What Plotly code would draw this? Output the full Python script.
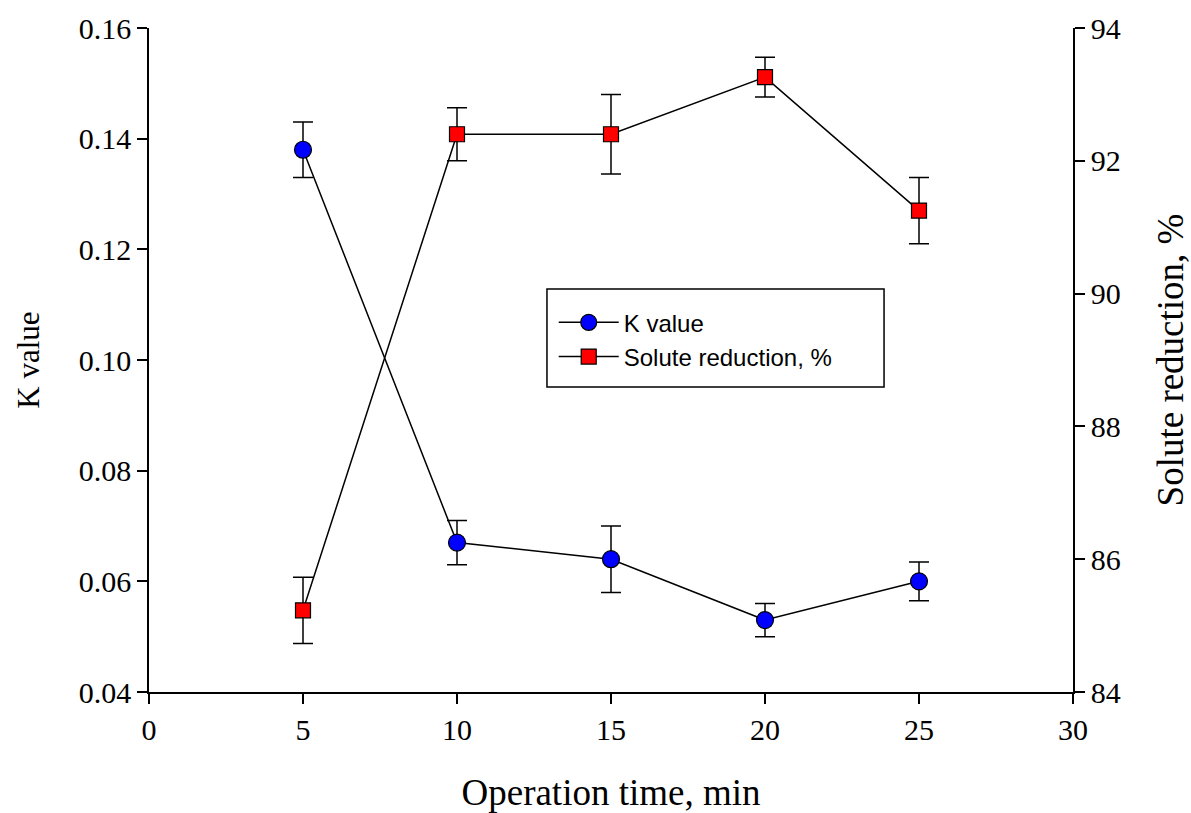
import plotly.graph_objects as go

time_min = [5, 10, 15, 20, 25]
k_value = [0.138, 0.067, 0.064, 0.053, 0.060]
k_err = [0.005, 0.004, 0.006, 0.003, 0.0035]
solute_red = [85.23, 92.40, 92.40, 93.26, 91.25]
solute_err = [0.5, 0.4, 0.6, 0.3, 0.5]

serif = "Liberation Serif, Times New Roman, serif"
sans = "Liberation Sans, Arial, sans-serif"

fig = go.Figure()
fig.add_trace(go.Scatter(
    x=time_min, y=k_value, name="K value", mode="lines+markers",
    line=dict(color="black", width=1.5),
    marker=dict(symbol="circle", size=17, color="#0000ff", line=dict(color="black", width=1.2)),
    error_y=dict(type="data", array=k_err, color="black", thickness=1.5, width=10),
    yaxis="y",
))
fig.add_trace(go.Scatter(
    x=time_min, y=solute_red, name="Solute reduction, %", mode="lines+markers",
    line=dict(color="black", width=1.5),
    marker=dict(symbol="square", size=15, color="#ff0000", line=dict(color="black", width=1.2)),
    error_y=dict(type="data", array=solute_err, color="black", thickness=1.5, width=10),
    yaxis="y2",
))

axis_common = dict(showline=True, linecolor="black", linewidth=1.5, ticks="outside",
                   ticklen=10, tickwidth=1.5, tickcolor="black", showgrid=False, zeroline=False,
                   automargin=False,
                   tickfont=dict(family=serif, size=30, color="black"))

fig.update_layout(
    width=1191, height=813,
    margin=dict(l=149, r=118, t=28, b=121),
    paper_bgcolor="white", plot_bgcolor="white",
    xaxis=dict(range=[0, 30], dtick=5, tick0=0,
               title=dict(text="Operation time, min", font=dict(family=serif, size=37, color="black"), standoff=54),
               **axis_common),
    yaxis=dict(range=[0.04, 0.16], dtick=0.02, tick0=0.04, tickformat=".2f",
               title=dict(text="K value", font=dict(family=serif, size=31, color="black"), standoff=30),
               **axis_common),
    yaxis2=dict(range=[84, 94], dtick=2, tick0=84, overlaying="y", side="right",
                title=dict(text="Solute reduction, %", font=dict(family=serif, size=37, color="black"), standoff=53),
                **axis_common),
    legend=dict(x=0.438, y=0.590, xanchor="left", yanchor="top",
                borderwidth=0, bgcolor="rgba(0,0,0,0)",
                font=dict(family=sans, size=24, color="black"),
                itemwidth=60, tracegroupgap=2),
    shapes=[dict(type="rect", xref="paper", yref="paper",
                 x0=0.4307, x1=0.7955, y0=0.4593, y1=0.6069,
                 line=dict(color="black", width=1.5), fillcolor="white", layer="below")],
    showlegend=True,
)

fig.write_html("out.html")
